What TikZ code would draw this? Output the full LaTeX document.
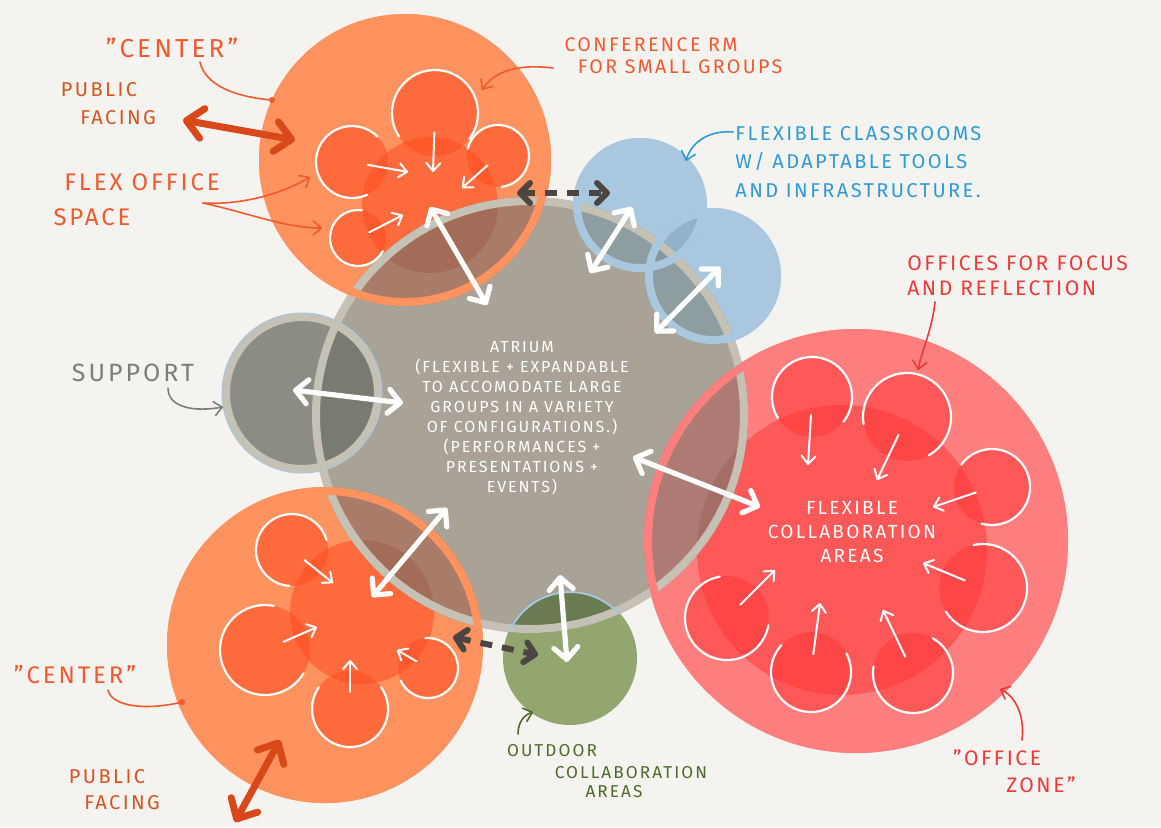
\documentclass[tikz,border=0pt]{standalone}
\usepackage{fontspec}
\setmainfont{Fira Sans}[LetterSpace=12]
\usetikzlibrary{arrows.meta}
\definecolor{bgc}{HTML}{F4F3EF}
\definecolor{orO}{HTML}{FF9360}
\definecolor{orIn}{HTML}{FF4B1F}
\definecolor{rdO}{HTML}{FF7F7F}
\definecolor{rdIn}{HTML}{FF3838}
\definecolor{atr}{HTML}{A9A296}
\definecolor{ringc}{HTML}{C5C1B5}
\definecolor{sup}{HTML}{8B8D85}
\definecolor{blu}{HTML}{A9C8DF}
\definecolor{grn}{HTML}{93A66F}
\definecolor{ovOr}{HTML}{A97C69}
\definecolor{ovOrIn}{HTML}{A36C58}
\definecolor{ovRd}{HTML}{AD7B73}
\definecolor{ovRdIn}{HTML}{A66D67}
\definecolor{ovSup}{HTML}{797A71}
\definecolor{ovBlu}{HTML}{8E9D9F}
\definecolor{ovBluB}{HTML}{85989F}
\definecolor{bbBlu}{HTML}{90B2CD}
\definecolor{ovGrn}{HTML}{6A7B52}
\definecolor{thinBlu}{HTML}{A9C8DF}
\definecolor{darkArr}{HTML}{4D4541}
\definecolor{pubOr}{HTML}{D9481B}
\definecolor{labOr}{HTML}{F25A2E}
\definecolor{labPub}{HTML}{D65420}
\definecolor{labBlu}{HTML}{2E9AD6}
\definecolor{labRd}{HTML}{F03A3A}
\definecolor{labGr}{HTML}{7E7E78}
\definecolor{labGn}{HTML}{4E6A2C}
\tikzset{
  bub/.style={circle, inner sep=0pt, outer sep=0pt, draw=none},
  roomline/.style={white, line width=1.1pt, line cap=round},
  roomarr/.style={white, line width=1pt, line cap=round, -{Straight Barb[length=4pt,width=7pt,round]}},
  dblarr/.style={white, line width=2.6pt, line cap=round, {Straight Barb[length=6pt,width=12pt,round]}-{Straight Barb[length=6pt,width=12pt,round]}},
  pubarr/.style={pubOr, line width=3.5pt, line cap=round, {Straight Barb[length=8pt,width=15pt,round]}-{Straight Barb[length=8pt,width=15pt,round]}},
  dasharr/.style={darkArr, line width=3pt, dash pattern=on 6pt off 5pt, {Straight Barb[length=5pt,width=10pt,round]}-{Straight Barb[length=5pt,width=10pt,round]}},
  lead/.style={line width=0.8pt, line cap=round},
  leadarr/.style={lead, -{Straight Barb[length=4pt,width=7pt,round]}},
  tx/.style={inner sep=0pt}
}
\begin{document}
\begin{tikzpicture}[x=0.5pt,y=-0.5pt]
\useasboundingbox (0,0) rectangle (1161,827);
\fill[bgc] (0,0) rectangle (1161,827);

% ---------- bubbles ----------
\node[bub, fill=orO, minimum size=146pt] (ctop) at (405,160) {};
\node[bub, fill=orO, minimum size=158pt] (cbot) at (325,645) {};
\node[bub, fill=rdO, minimum size=212pt] (office) at (856,541) {};
\node[bub, fill=blu, minimum size=67pt] (blueA) at (640,205) {};
\node[bub, fill=blu, minimum size=68pt] (blueB) at (713,276) {};
\node[bub, fill=sup, minimum size=80pt] (support) at (302,393) {};
\node[bub, fill=grn, minimum size=67pt] (green) at (570,658) {};
\node[bub, fill=atr, minimum size=218pt] (atrium) at (530,415) {};

% ---------- inner blobs and room fills ----------
\fill[orIn, fill opacity=.55] (430,205) circle[radius=68];
\fill[orIn, fill opacity=.55] (362,612) circle[radius=72];
\fill[rdIn, fill opacity=.55] (842,550) circle[radius=145];
\foreach \ax/\ay/\ar/\bx/\by in {435/113/43/433/172, 498/156/31/462/188, 352/162/36/408/172, 358/238/28/403/215,
  292/550/36/333/583, 265/650/45/317/627, 350/709/38/350/660, 428/668/30/397/650}
  {\fill[orIn, fill opacity=.55] (\ax,\ay) circle[radius=\ar];}
\foreach \ax/\ay/\ar/\bx/\by in {812/397/40/808/465, 907/417/44/877/480, 992/487/38/933/507, 983/588/44/923/563,
  913/673/40/883/610, 811/672/40/820/603, 727/618/42/775/570}
  {\fill[rdIn, fill opacity=.55] (\ax,\ay) circle[radius=\ar];}

% ---------- overlaps ----------
\begin{scope}
  \clip (640,205) circle[radius=67];
  \fill[bbBlu] (713,276) circle[radius=68];
\end{scope}
\begin{scope}
  \clip (530,415) circle[radius=218];
  \fill[ovOr] (405,160) circle[radius=146];
  \fill[ovOr] (325,645) circle[radius=158];
  \fill[ovRd] (856,541) circle[radius=212];
  \fill[ovSup] (302,393) circle[radius=80];
  \fill[ovBlu] (640,205) circle[radius=67];
  \fill[ovBlu] (713,276) circle[radius=68];
  \fill[ovGrn] (570,658) circle[radius=67];
  \fill[ovOrIn] (430,205) circle[radius=68];
  \fill[ovOrIn] (362,612) circle[radius=72];
  \fill[ovRdIn] (842,550) circle[radius=145];
  \begin{scope}
    \clip (640,205) circle[radius=67];
    \fill[ovBluB] (713,276) circle[radius=68];
  \end{scope}
\end{scope}

% ---------- rims ----------
\draw[ringc, line width=4pt] (530,415) circle[radius=214];
\draw[orO, line width=4pt] (405,160) circle[radius=142];
\draw[orO, line width=4pt] (325,645) circle[radius=154];
\draw[rdO, line width=4pt] (856,541) circle[radius=208];
\draw[blu, line width=4pt] (640,205) circle[radius=63];
\draw[blu, line width=4pt] (713,276) circle[radius=64];
\draw[ringc, line width=4pt] (302,393) circle[radius=76];
\draw[thinBlu, line width=0.5pt] (302,393) circle[radius=80];
\begin{scope}
  \clip (530,415) circle[radius=218];
  \draw[thinBlu, line width=1pt] (570,658) circle[radius=66];
\end{scope}

% ---------- room outlines (open towards the cluster centre) and arrows ----------
\foreach \ax/\ay/\ar/\bx/\by in {435/113/43/433/172, 498/156/31/462/188, 352/162/36/408/172, 358/238/28/403/215,
  292/550/36/333/583, 265/650/45/317/627, 350/709/38/350/660, 428/668/30/397/650,
  812/397/40/808/465, 907/417/44/877/480, 992/487/38/933/507, 983/588/44/923/563,
  913/673/40/883/610, 811/672/40/820/603, 727/618/42/775/570}
{
  \pgfmathsetmacro\rphi{atan2(\by-\ay,\bx-\ax)}
  \pgfmathsetmacro\rsa{\rphi+55}
  \pgfmathsetmacro\rea{\rphi+305}
  \pgfmathsetmacro\rsx{\ax+\ar*cos(\rsa)}
  \pgfmathsetmacro\rsy{\ay+\ar*sin(\rsa)}
  \pgfmathsetmacro\rax{\ax+0.45*\ar*cos(\rphi)}
  \pgfmathsetmacro\ray{\ay+0.45*\ar*sin(\rphi)}
  \draw[roomline] (\rsx,\rsy) arc[start angle=\rsa, end angle=\rea, radius=\ar];
  \draw[roomarr] (\rax,\ray) -- (\bx,\by);
}

% ---------- white double arrows ----------
\coordinate (d1a) at (430,207); \coordinate (d1b) at (487,305);
\coordinate (d2a) at (632,207); \coordinate (d2b) at (590,273);
\coordinate (d3a) at (720,267); \coordinate (d3b) at (655,333);
\coordinate (d4a) at (293,390); \coordinate (d4b) at (403,403);
\coordinate (d5a) at (633,457); \coordinate (d5b) at (760,507);
\coordinate (d6a) at (447,508); \coordinate (d6b) at (372,597);
\coordinate (d7a) at (560,575); \coordinate (d7b) at (567,662);
\draw[dblarr] (d1a) -- (d1b);
\draw[dblarr] (d2a) -- (d2b);
\draw[dblarr] (d3a) -- (d3b);
\draw[dblarr] (d4a) -- (d4b);
\draw[dblarr] (d5a) -- (d5b);
\draw[dblarr] (d6a) -- (d6b);
\draw[dblarr] (d7a) -- (d7b);

% ---------- dark dashed arrows ----------
\coordinate (k1a) at (517,193); \coordinate (k1b) at (610,193);
\coordinate (k2a) at (453,637); \coordinate (k2b) at (538,655);
\draw[dasharr] (k1a) -- (k1b);
\draw[dasharr] (k2a) -- (k2b);

% ---------- public facing arrows ----------
\coordinate (p1a) at (183,120); \coordinate (p1b) at (295,140);
\coordinate (p2a) at (280,740); \coordinate (p2b) at (235,822);
\draw[pubarr] (p1a) -- (p1b);
\draw[pubarr] (p2a) -- (p2b);

% ---------- texts ----------
\node[tx, text=white, align=center, font=\fontsize{8}{10}\selectfont] (atrText) at (522,418)
  {ATRIUM\\(FLEXIBLE + EXPANDABLE\\TO ACCOMODATE LARGE\\GROUPS IN A VARIETY\\OF CONFIGURATIONS.)\\(PERFORMANCES +\\PRESENTATIONS +\\EVENTS)};
\node[tx, text=white, align=center, font=\fontsize{9.5}{12.2}\selectfont] (fcaText) at (852,532)
  {FLEXIBLE\\COLLABORATION\\AREAS};

\node[tx, text=labOr, font=\fontsize{13}{15}\selectfont] (cTop) at (172,48) {"CENTER"};
\node[tx, text=labPub, font=\fontsize{10}{12}\selectfont] (pubA1) at (99,90) {PUBLIC};
\node[tx, text=labPub, font=\fontsize{10}{12}\selectfont] (pubA2) at (118,118) {FACING};
\node[tx, text=labOr, font=\fontsize{12}{14}\selectfont] (flex1) at (142,182) {FLEX OFFICE};
\node[tx, text=labOr, font=\fontsize{12}{14}\selectfont] (flex2) at (92,217) {SPACE};
\node[tx, text=labOr, font=\fontsize{9.8}{12}\selectfont] (conf1) at (651,45) {CONFERENCE RM};
\node[tx, text=labOr, font=\fontsize{9.8}{12}\selectfont] (conf2) at (680,67) {FOR SMALL GROUPS};
\node[tx, text=labBlu, anchor=west, align=left, font=\fontsize{10}{14.2}\selectfont] (cls) at (735,162)
  {FLEXIBLE CLASSROOMS\\W/ ADAPTABLE TOOLS\\AND INFRASTRUCTURE.};
\node[tx, text=labRd, anchor=west, align=left, font=\fontsize{10.5}{12.5}\selectfont] (ofc) at (907,276)
  {OFFICES FOR FOCUS\\AND REFLECTION};
\node[tx, text=labGr, font=\fontsize{12.5}{14}\selectfont] (supT) at (133,373) {SUPPORT};
\node[tx, text=labOr, font=\fontsize{12}{14}\selectfont] (cBot) at (75,675) {"CENTER"};
\node[tx, text=labPub, font=\fontsize{10}{12}\selectfont] (pubB1) at (107,777) {PUBLIC};
\node[tx, text=labPub, font=\fontsize{10}{12}\selectfont] (pubB2) at (122,803) {FACING};
\node[tx, text=labGn, font=\fontsize{8.6}{10}\selectfont] (out1) at (552,751) {OUTDOOR};
\node[tx, text=labGn, font=\fontsize{8.6}{10}\selectfont] (out2) at (631,773) {COLLABORATION};
\node[tx, text=labGn, font=\fontsize{8.6}{10}\selectfont] (out3) at (614,792) {AREAS};
\node[tx, text=labRd, font=\fontsize{10.5}{12}\selectfont] (oz1) at (997,758) {"OFFICE};
\node[tx, text=labRd, font=\fontsize{10.5}{12}\selectfont] (oz2) at (1041,785) {ZONE"};

% ---------- leaders ----------
\coordinate (l1s) at (200,62); \coordinate (l1e) at (272,100);
\draw[lead, labOr] (l1s) .. controls (205,85) and (235,97) .. (l1e);
\fill[labOr] (l1e) circle[radius=3];
\coordinate (l2s) at (203,203); \coordinate (l2e) at (310,177); \coordinate (l2f) at (322,228);
\draw[leadarr, labOr] (l2s) .. controls (240,205) and (280,195) .. (l2e);
\draw[leadarr, labOr] (l2s) .. controls (245,212) and (285,228) .. (l2f);
\coordinate (l3s) at (553,68); \coordinate (l3e) at (482,90);
\draw[leadarr, labOr] (l3s) .. controls (520,64) and (495,70) .. (l3e);
\coordinate (l4s) at (733,132); \coordinate (l4e) at (686,161);
\draw[leadarr, labBlu] (l4s) .. controls (712,130) and (692,140) .. (l4e);
\coordinate (l5s) at (935,302); \coordinate (l5e) at (918,370);
\draw[leadarr, labRd] (l5s) .. controls (932,330) and (922,350) .. (l5e);
\coordinate (l6s) at (168,388); \coordinate (l6e) at (223,407);
\draw[leadarr, labGr] (l6s) .. controls (168,408) and (195,412) .. (l6e);
\coordinate (l7s) at (108,690); \coordinate (l7e) at (182,702);
\draw[lead, labOr] (l7s) .. controls (112,708) and (150,710) .. (l7e);
\fill[labOr] (l7e) circle[radius=3];
\coordinate (l8s) at (518,734); \coordinate (l8e) at (533,712);
\draw[leadarr, labGn] (l8s) .. controls (518,722) and (524,715) .. (l8e);
\coordinate (l9s) at (1022,740); \coordinate (l9e) at (1000,689);
\draw[leadarr, labRd] (l9s) .. controls (1025,715) and (1015,696) .. (l9e);
\end{tikzpicture}
\end{document}
